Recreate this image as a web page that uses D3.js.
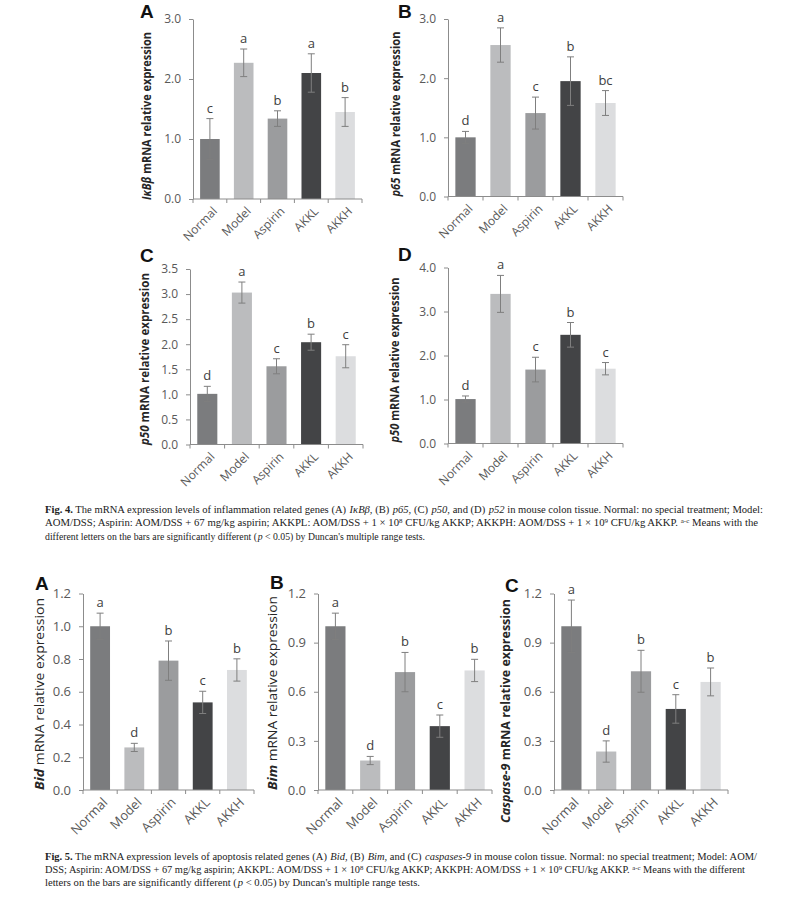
<!DOCTYPE html>
<html>
<head>
<meta charset="utf-8">
<script src="https://cdn.jsdelivr.net/npm/d3@7"></script>
<style>
  html, body { margin: 0; padding: 0; background: #fff; }
  svg { display: block; }
</style>
</head>
<body>
<svg id="chart" width="800" height="897"></svg>
<script>
// ---------------- DATA ----------------
const categories = ["Normal", "Model", "Aspirin", "AKKL", "AKKH"];

// Fig. 4 (A) IκBβ
const fig4A_values  = [1.00, 2.27, 1.34, 2.10, 1.45];
const fig4A_errors  = [0.34, 0.23, 0.13, 0.32, 0.24];
const fig4A_letters = ["c", "a", "b", "a", "b"];
const fig4A_ticks   = [0, 1, 2, 3];

// Fig. 4 (B) p65
const fig4B_values  = [1.00, 2.56, 1.41, 1.95, 1.58];
const fig4B_errors  = [0.10, 0.29, 0.27, 0.41, 0.21];
const fig4B_letters = ["d", "a", "c", "b", "bc"];
const fig4B_ticks   = [0, 1, 2, 3];

// Fig. 4 (C) p50
const fig4C_values  = [1.01, 3.03, 1.56, 2.04, 1.76];
const fig4C_errors  = [0.15, 0.21, 0.15, 0.16, 0.23];
const fig4C_letters = ["d", "a", "c", "b", "c"];
const fig4C_ticks   = [0, 0.5, 1, 1.5, 2, 2.5, 3, 3.5];

// Fig. 4 (D) p52 (axis labelled p50)
const fig4D_values  = [1.01, 3.40, 1.68, 2.47, 1.70];
const fig4D_errors  = [0.07, 0.42, 0.28, 0.28, 0.14];
const fig4D_letters = ["d", "a", "c", "b", "c"];
const fig4D_ticks   = [0, 1, 2, 3, 4];

// Fig. 5 (A) Bid
const fig5A_values  = [1.00, 0.26, 0.79, 0.535, 0.733];
const fig5A_errors  = [0.08, 0.025, 0.12, 0.068, 0.068];
const fig5A_letters = ["a", "d", "b", "c", "b"];
const fig5A_ticks   = [0, 0.2, 0.4, 0.6, 0.8, 1.0, 1.2];

// Fig. 5 (B) Bim
const fig5B_values  = [1.00, 0.18, 0.72, 0.39, 0.73];
const fig5B_errors  = [0.08, 0.025, 0.12, 0.068, 0.068];
const fig5B_letters = ["a", "d", "b", "c", "b"];
const fig5B_ticks   = [0, 0.3, 0.6, 0.9, 1.2];

// Fig. 5 (C) Caspase-9
const fig5C_values  = [1.00, 0.235, 0.725, 0.495, 0.66];
const fig5C_errors  = [0.16, 0.065, 0.128, 0.087, 0.085];
const fig5C_letters = ["a", "d", "b", "c", "b"];
const fig5C_ticks   = [0, 0.3, 0.6, 0.9, 1.2];

// ---------------- STYLE / LAYOUT ----------------
const barColors = ["#7b7c7e", "#bbbcbe", "#9b9c9e", "#434446", "#dcdddf"];
const axisColor = "#8c8c8c";
const tickTextColor = "#595959";
const errColor = "#7f7f7f";
const fontSans = "'Open Sans', 'Noto Sans', sans-serif";
const fontTag = "'Liberation Sans', Arial, sans-serif";
const fontSerif = "'Liberation Serif', 'DejaVu Serif', serif";

const panels = [
  { values: fig4A_values, errors: fig4A_errors, letters: fig4A_letters, ticks: fig4A_ticks,
    x0: 193, x1: 362, yTop: 19, yBot: 199, tickFs: 12, catFs: 12, letFs: 13,
    gene: "IκBβ", labelWeight: "bold", labelX: 147, labelCY: 116, labelLen: 168, labelFs: 12,
    tag: "A", tagX: 140, tagY: 18 },
  { values: fig4B_values, errors: fig4B_errors, letters: fig4B_letters, ticks: fig4B_ticks,
    x0: 448, x1: 623, yTop: 19, yBot: 196.5, tickFs: 12, catFs: 12, letFs: 13,
    gene: "p65", labelWeight: "bold", labelX: 396, labelCY: 114, labelLen: 165, labelFs: 12,
    tag: "B", tagX: 398, tagY: 18 },
  { values: fig4C_values, errors: fig4C_errors, letters: fig4C_letters, ticks: fig4C_ticks,
    x0: 190, x1: 363, yTop: 269, yBot: 444.5, tickFs: 12, catFs: 12, letFs: 13,
    gene: "p50", labelWeight: "bold", labelX: 145, labelCY: 359, labelLen: 172, labelFs: 12,
    tag: "C", tagX: 140, tagY: 262 },
  { values: fig4D_values, errors: fig4D_errors, letters: fig4D_letters, ticks: fig4D_ticks,
    x0: 448, x1: 623, yTop: 267.5, yBot: 443.5, tickFs: 12, catFs: 12, letFs: 13,
    gene: "p50", labelWeight: "bold", labelX: 395, labelCY: 360, labelLen: 165, labelFs: 12,
    tag: "D", tagX: 398, tagY: 261 },
  { values: fig5A_values, errors: fig5A_errors, letters: fig5A_letters, ticks: fig5A_ticks,
    x0: 83, x1: 254, yTop: 593.5, yBot: 790, tickFs: 13, catFs: 13, letFs: 13,
    gene: "Bid", labelWeight: "normal", labelX: 39, labelCY: 694, labelLen: 192, labelFs: 13,
    tag: "A", tagX: 35, tagY: 590 },
  { values: fig5B_values, errors: fig5B_errors, letters: fig5B_letters, ticks: fig5B_ticks,
    x0: 318, x1: 492, yTop: 593.5, yBot: 790, tickFs: 13, catFs: 13, letFs: 13,
    gene: "Bim", labelWeight: "normal", labelX: 272, labelCY: 693, labelLen: 194, labelFs: 13,
    tag: "B", tagX: 270, tagY: 589 },
  { values: fig5C_values, errors: fig5C_errors, letters: fig5C_letters, ticks: fig5C_ticks,
    x0: 554, x1: 728, yTop: 593.5, yBot: 790, tickFs: 13, catFs: 13, letFs: 13,
    gene: "Caspase-9", labelWeight: "bold", labelX: 505, labelCY: 711, labelLen: 224, labelFs: 13,
    tag: "C", tagX: 505, tagY: 592 }
];

const svg = d3.select("#chart");

panels.forEach(p => {
  const g = svg.append("g");
  const x = d3.scaleBand().domain(categories).range([p.x0, p.x1]).paddingInner(0.42).paddingOuter(0.21);
  const yMax = p.ticks[p.ticks.length - 1];
  const y = d3.scaleLinear().domain([0, yMax]).range([p.yBot, p.yTop]);

  // bars
  g.selectAll("rect.bar").data(categories).join("rect")
    .attr("class", "bar")
    .attr("x", d => x(d))
    .attr("width", x.bandwidth())
    .attr("y", (d, i) => y(p.values[i]))
    .attr("height", (d, i) => y(0) - y(p.values[i]))
    .attr("fill", (d, i) => barColors[i]);

  // error bars
  const capW = 3.5;
  const eb = g.selectAll("g.err").data(categories).join("g").attr("class", "err")
    .attr("stroke", errColor).attr("stroke-width", 1);
  eb.append("line")
    .attr("x1", d => x(d) + x.bandwidth() / 2).attr("x2", d => x(d) + x.bandwidth() / 2)
    .attr("y1", (d, i) => y(p.values[i] - p.errors[i]))
    .attr("y2", (d, i) => y(p.values[i] + p.errors[i]));
  eb.append("line")
    .attr("x1", d => x(d) + x.bandwidth() / 2 - capW).attr("x2", d => x(d) + x.bandwidth() / 2 + capW)
    .attr("y1", (d, i) => y(p.values[i] + p.errors[i]))
    .attr("y2", (d, i) => y(p.values[i] + p.errors[i]));
  eb.append("line")
    .attr("x1", d => x(d) + x.bandwidth() / 2 - capW).attr("x2", d => x(d) + x.bandwidth() / 2 + capW)
    .attr("y1", (d, i) => y(p.values[i] - p.errors[i]))
    .attr("y2", (d, i) => y(p.values[i] - p.errors[i]));

  // significance letters
  g.selectAll("text.sig").data(categories).join("text")
    .attr("class", "sig")
    .attr("x", d => x(d) + x.bandwidth() / 2)
    .attr("y", (d, i) => y(p.values[i] + p.errors[i]) - 6)
    .attr("text-anchor", "middle")
    .attr("font-family", fontSans)
    .attr("font-size", p.letFs)
    .attr("fill", "#404040")
    .text((d, i) => p.letters[i]);

  // y axis
  const yAxis = d3.axisLeft(y).tickValues(p.ticks).tickFormat(d3.format(".1f"))
    .tickSizeInner(4).tickSizeOuter(0).tickPadding(8);
  const ya = g.append("g").attr("transform", `translate(${p.x0},0)`).call(yAxis);
  ya.select(".domain").attr("stroke", axisColor);
  ya.selectAll(".tick line").attr("stroke", axisColor);
  ya.selectAll(".tick text").attr("fill", tickTextColor)
    .attr("font-family", fontSans).attr("font-size", p.tickFs);

  // x axis (ticks at band boundaries)
  const xa = g.append("g");
  xa.append("line").attr("x1", p.x0).attr("x2", p.x1)
    .attr("y1", y(0)).attr("y2", y(0)).attr("stroke", axisColor);
  const step = x.step();
  const bounds = categories.map(c => x(c) - x.paddingInner() * step / 2).concat([p.x1]);
  bounds[0] = p.x0;
  xa.selectAll("line.xt").data(bounds).join("line").attr("class", "xt")
    .attr("x1", d => d).attr("x2", d => d)
    .attr("y1", y(0)).attr("y2", y(0) + 4).attr("stroke", axisColor);
  xa.selectAll("text.cat").data(categories).join("text").attr("class", "cat")
    .attr("transform", d => `translate(${x(d) + x.bandwidth() / 2 + 5},${y(0) + 10}) rotate(-45)`)
    .attr("text-anchor", "end")
    .attr("dy", "0.35em")
    .attr("font-family", fontSans)
    .attr("font-size", p.catFs)
    .attr("fill", tickTextColor)
    .text(d => d);

  // y label
  const lab = g.append("text")
    .attr("transform", `translate(${p.labelX},${p.labelCY}) rotate(-90)`)
    .attr("text-anchor", "middle")
    .attr("dy", "0.35em")
    .attr("font-family", fontSans)
    .attr("font-size", p.labelFs)
    .attr("font-weight", p.labelWeight)
    .attr("fill", "#262626")
    .attr("textLength", p.labelLen)
    .attr("lengthAdjust", "spacingAndGlyphs");
  lab.append("tspan").attr("font-style", "italic").attr("font-weight", "bold").text(p.gene);
  lab.append("tspan").text(" mRNA relative expression");

  // panel tag
  g.append("text").attr("x", p.tagX).attr("y", p.tagY)
    .attr("font-family", fontTag).attr("font-weight", "bold")
    .attr("font-size", 19).attr("fill", "#111").text(p.tag);
});

// ---------------- CAPTIONS ----------------
function captionLine(yPos, len, parts) {
  const t = svg.append("text").attr("x", 45).attr("y", yPos)
    .attr("font-family", fontSerif).attr("font-size", 10).attr("fill", "#222")
    .attr("textLength", len).attr("lengthAdjust", "spacingAndGlyphs");
  parts.forEach(pt => {
    const s = t.append("tspan").text(pt.t);
    if (pt.b) s.attr("font-weight", "bold");
    if (pt.i) s.attr("font-style", "italic").attr("dx", 0.8);
    if (pt.sup) s.attr("baseline-shift", "super").attr("font-size", 6.5);
  });
}

captionLine(513, 718, [
  { t: "Fig. 4.", b: true },
  { t: "  The mRNA expression levels of inflammation related genes (A) " },
  { t: "IκBβ", i: true }, { t: ", (B) " }, { t: "p65", i: true }, { t: ", (C) " },
  { t: "p50", i: true }, { t: ", and (D) " }, { t: "p52", i: true },
  { t: " in mouse colon tissue. Normal: no special treatment; Model:" }
]);
captionLine(526, 713, [
  { t: "AOM/DSS; Aspirin: AOM/DSS + 67 mg/kg aspirin; AKKPL: AOM/DSS + 1 × 10" },
  { t: "8", sup: true },
  { t: " CFU/kg AKKP; AKKPH: AOM/DSS + 1 × 10" }, { t: "9", sup: true },
  { t: " CFU/kg AKKP. " }, { t: "a-c", sup: true }, { t: " Means with the" }
]);
captionLine(540, 380, [
  { t: "different letters on the bars are significantly different (" }, { t: "p", i: true },
  { t: " < 0.05) by Duncan's multiple range tests." }
]);

captionLine(860, 712, [
  { t: "Fig. 5.", b: true },
  { t: "  The mRNA expression levels of apoptosis related genes (A) " },
  { t: "Bid", i: true }, { t: ", (B) " }, { t: "Bim", i: true }, { t: ", and (C) " },
  { t: "caspases-9", i: true },
  { t: " in mouse colon tissue. Normal: no special treatment; Model: AOM/" }
]);
captionLine(873, 700, [
  { t: "DSS; Aspirin: AOM/DSS + 67 mg/kg aspirin; AKKPL: AOM/DSS + 1 × 10" },
  { t: "8", sup: true },
  { t: " CFU/kg AKKP; AKKPH: AOM/DSS + 1 × 10" }, { t: "9", sup: true },
  { t: " CFU/kg AKKP. " }, { t: "a-c", sup: true }, { t: " Means with the different" }
]);
captionLine(886, 375, [
  { t: "letters on the bars are significantly different (" }, { t: "p", i: true },
  { t: " < 0.05) by Duncan's multiple range tests." }
]);
</script>
</body>
</html>
